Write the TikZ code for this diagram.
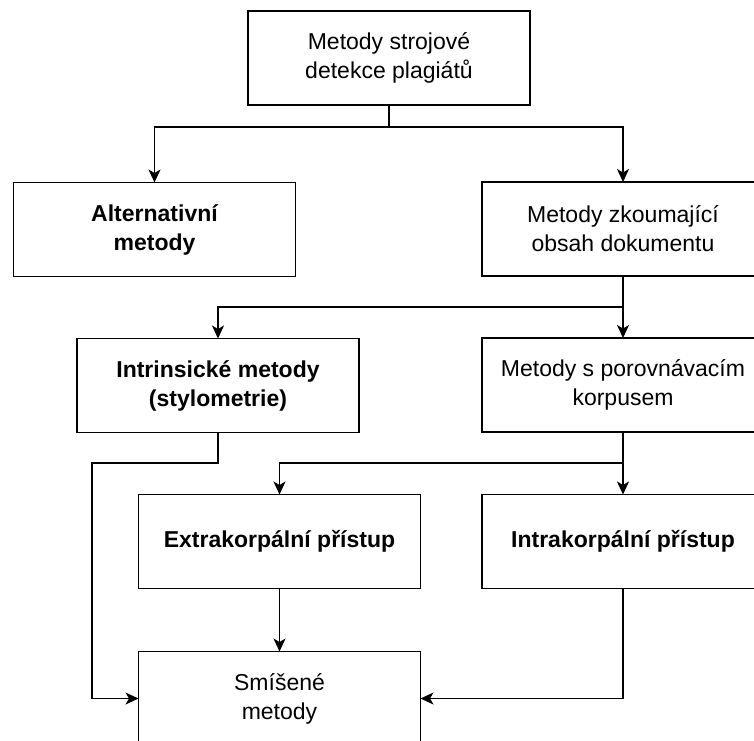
\documentclass[tikz,border=0pt]{standalone}
\usepackage{fontspec}
\setmainfont{Liberation Sans}
\usetikzlibrary{arrows.meta}
\begin{document}
\begin{tikzpicture}[x=1pt,y=1pt,
  box/.style={draw, line width=1.6pt, minimum width=282pt, minimum height=94pt,
    inner sep=0pt, outer sep=0pt, align=center, font=\fontsize{23}{29}\selectfont},
  boldbox/.style={box, font=\fontsize{23}{29}\selectfont\bfseries},
  conn/.style={line width=1.6pt},
  arr/.style={conn, -{Stealth[length=13pt,width=12pt,inset=3.5pt]}}]
\useasboundingbox (0,0) rectangle (754,-740);
\clip (0,0) rectangle (754,-740);
\node[box] (top) at (389,-58) {Metody strojové\\detekce plagiátů};
\node[boldbox] (alt) at (154.5,-229.5) {Alternativní\\metody};
\node[box] (obs) at (623,-229) {Metody zkoumající\\obsah dokumentu};
\node[boldbox] (intr) at (218,-385.5) {Intrinsické metody\\(stylometrie)};
\node[box] (por) at (623,-385) {Metody s porovnávacím\\korpusem};
\node[boldbox] (extra) at (279.5,-541.5) {Extrakorpální přístup};
\node[boldbox] (intra) at (623,-541.5) {Intrakorpální přístup};
\node[box] (mix) at (279.5,-698.5) {Smíšené\\metody};
\coordinate (j1) at (389,-127);
\coordinate (j2) at (623,-307);
\coordinate (j3) at (623,-463);
\coordinate (j4) at (92,-463);
\draw[conn] (top.south) -- (j1);
\draw[arr] (j1) -| (alt.north);
\draw[arr] (j1) -| (obs.north);
\draw[arr] (obs.south) -- (por.north);
\draw[arr] (j2) -| (intr.north);
\draw[arr] (por.south) -- (intra.north);
\draw[arr] (j3) -| (extra.north);
\draw[arr] (intr.south) |- (j4) |- (mix.west);
\draw[arr] (extra.south) -- (mix.north);
\draw[arr] (intra.south) |- (mix.east);
\end{tikzpicture}
\end{document}
